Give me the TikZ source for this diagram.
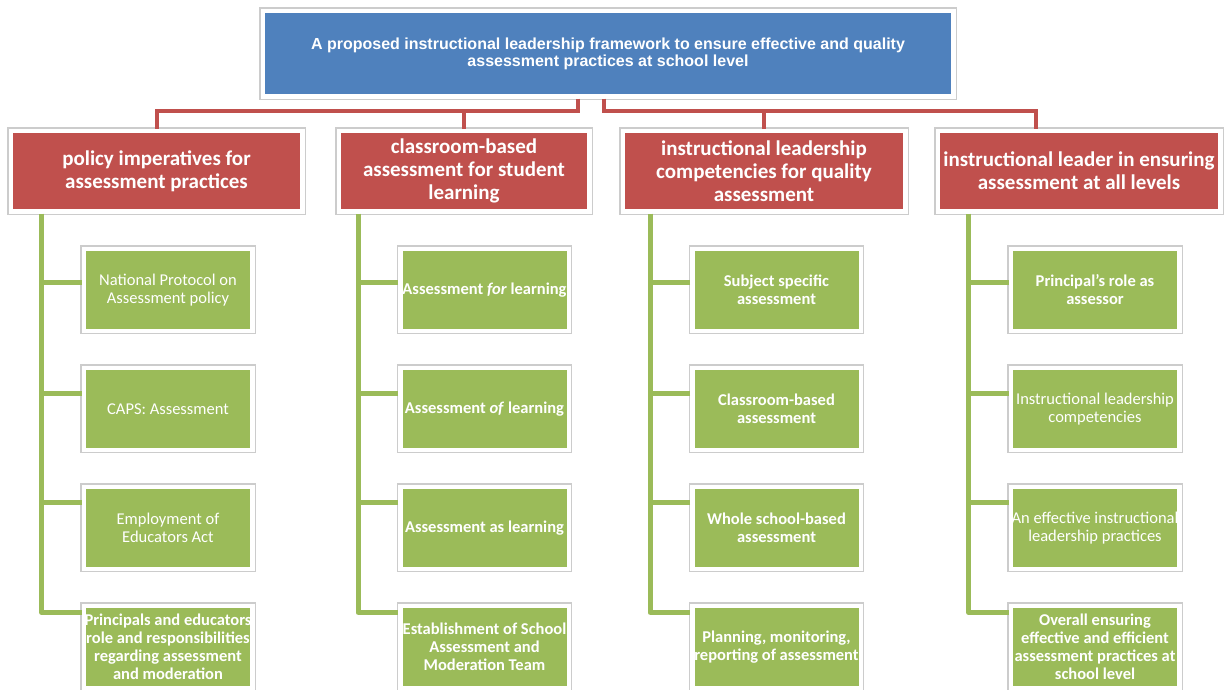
\documentclass[tikz,border=0pt]{standalone}
\usepackage{fontspec}
\setmainfont{Carlito}
\newfontfamily\titlesans{Liberation Sans}
\usetikzlibrary{positioning}

\definecolor{topblue}{HTML}{4F81BD}
\definecolor{catred}{HTML}{C0504D}
\definecolor{itemgreen}{HTML}{9BBB59}

\tikzset{
  framed/.style={preaction={draw=black!20, line width=6.8pt}, draw=white, line width=4.5pt, inner sep=0pt},
  topbox/.style={framed, fill=topblue, minimum width=690.5pt, minimum height=85.5pt,
    text=white, align=center, font=\titlesans\bfseries\fontsize{16}{17}\selectfont},
  catbox/.style={framed, fill=catred, minimum height=80.5pt, text=white, align=center,
    font=\bfseries\fontsize{21}{23}\selectfont},
  itembox/.style={framed, fill=itemgreen, minimum width=168.5pt, minimum height=82pt,
    text=white, align=center, font=\fontsize{16.5}{18}\selectfont},
  heavy/.style={font=\bfseries\fontsize{16.5}{18}\selectfont},
  tie/.style={draw=catred, line width=4pt},
  limb/.style={draw=itemgreen, line width=5pt, line join=round},
}

\begin{document}
\begin{tikzpicture}[x=1pt, y=1pt]
        \fill[white] (0,0) rectangle (1226,-689);
        \useasboundingbox (0,0) rectangle (1226,-689);

        \node[topbox] (top) at (608,-53.5)
            {A proposed instructional leadership framework to ensure effective and quality\\assessment practices at school level};

        \node[catbox, minimum width=291.5pt] (c1) at (156.5,-171) {policy imperatives for\\assessment practices};
        \node[catbox, minimum width=250.5pt, right=32pt of c1] (c2) {classroom-based\\assessment for student\\learning};
        \node[catbox, minimum width=282.5pt, right=29pt of c2] (c3) {instructional leadership\\competencies for quality\\assessment};
        \node[catbox, minimum width=282.5pt, right=28pt of c3] (c4) {instructional leader in ensuring\\assessment at all levels};

        \node[itembox, below=33pt of c1, xshift=11.5pt] (i11) {National Protocol on\\Assessment policy};
        \node[itembox, below=32.5pt of i11] (i12) {CAPS: Assessment};
        \node[itembox, below=32.5pt of i12] (i13) {Employment of\\Educators Act};
        \node[itembox, heavy, below=32.5pt of i13] (i14) {Principals and educators\\role and responsibilities\\regarding assessment\\and moderation};

        \node[itembox, heavy, below=33pt of c2, xshift=20.5pt] (i21) {Assessment \textit{for} learning};
        \node[itembox, heavy, below=32.5pt of i21] (i22) {Assessment \textit{of} learning};
        \node[itembox, heavy, below=32.5pt of i22] (i23) {Assessment as learning};
        \node[itembox, heavy, below=32.5pt of i23] (i24) {Establishment of School\\Assessment and\\Moderation Team};

        \node[itembox, heavy, below=33pt of c3, xshift=12.5pt] (i31) {Subject specific\\assessment};
        \node[itembox, heavy, below=32.5pt of i31] (i32) {Classroom-based\\assessment};
        \node[itembox, heavy, below=32.5pt of i32] (i33) {Whole school-based\\assessment};
        \node[itembox, heavy, below=32.5pt of i33] (i34) {Planning, monitoring,\\reporting of assessment};

        \node[itembox, heavy, below=33pt of c4, xshift=16pt] (i41) {Principal’s role as\\assessor};
        \node[itembox, below=32.5pt of i41] (i42) {Instructional leadership\\competencies};
        \node[itembox, below=32.5pt of i42] (i43) {An effective instructional\\leadership practices};
        \node[itembox, heavy, below=32.5pt of i43] (i44) {Overall ensuring\\effective and efficient\\assessment practices at\\school level};

        \coordinate (hubl) at ([shift={(-30pt,-12pt)}]top.south);
        \coordinate (hubr) at ([shift={(-4pt,-12pt)}]top.south);
        \draw[tie] ([xshift=-30pt]top.south) -- (hubl) -| (c1.north) (hubl) -| (c2.north);
        \draw[tie] ([xshift=-4pt]top.south) -- (hubr) -| (c3.north) (hubr) -| ([xshift=-43pt]c4.north);

        \foreach \c in {1,...,4}{
            \coordinate (k\c) at ([xshift=-40pt]i\c1.west);
            \draw[limb] (c\c.south -| k\c) |- ([yshift=34.5pt]i\c4.west);
            \foreach \r/\s in {1/7.5,2/15.5,3/25.5}
                \draw[limb] ([yshift=\s pt]i\c\r.west) -- ++(-40pt,0);
        }
\end{tikzpicture}
\end{document}
